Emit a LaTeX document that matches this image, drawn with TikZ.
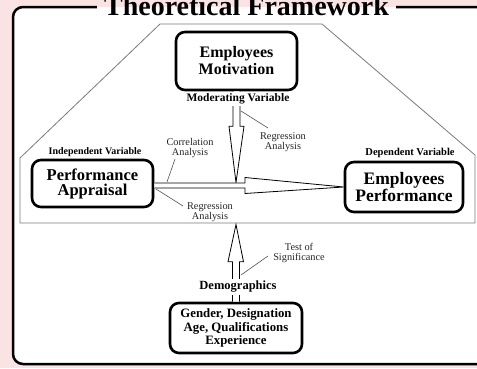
\documentclass[tikz,border=0pt]{standalone}
\usepackage{fontspec}
\setmainfont{Liberation Serif}
\usetikzlibrary{calc}
\definecolor{pinkbg}{HTML}{FAE3E3}
\definecolor{hexgray}{HTML}{7A7A7A}
\definecolor{leadgray}{HTML}{505050}
\begin{document}
\begin{tikzpicture}[x=1pt,y=-1pt,
  bigbox/.style={draw, line width=2.6pt, rounded corners=9pt, align=center, inner sep=0pt},
  boldlabel/.style={font=\fontsize{#1}{#1}\selectfont\bfseries, inner sep=0pt, align=center},
  plainlabel/.style={font=\fontsize{10.3}{10.5}\selectfont, inner sep=0pt, align=center, text=black!85},
  blockarrow/.style={draw=black, line width=0.8pt, fill=white, line join=miter},
  leader/.style={draw=leadgray, line width=0.6pt},
  hexline/.style={draw=hexgray, line width=0.8pt}]
\useasboundingbox (0,0) rectangle (477,368);
\fill[pinkbg] (0,0) rectangle (477,368);
% outer frame
\draw[line width=2.5pt, fill=white, rounded corners=10pt] (13,7) rectangle (492,364);
\fill[pinkbg] (97,5.4) rectangle (396,7);
\fill[white] (97,7) rectangle (396,8.7);
\node[anchor=base, inner sep=0pt, font=\fontsize{28}{30}\selectfont\bfseries] (title) at (246.5,15) {Theoretical Framework};
% hexagon
\draw[hexline] (160,24) -- (322,24) -- (475,155) -- (475,223) -- (20,223) -- (20,158) -- cycle;
% boxes
\node[bigbox, minimum width=121pt, minimum height=58pt, font=\fontsize{16}{17}\selectfont\bfseries] (em) at (236.5,61) {Employees\\Motivation};
\node[bigbox, minimum width=121pt, minimum height=47pt, font=\fontsize{16.5}{15}\selectfont\bfseries] (pa) at (92.5,183.5) {Performance\\Appraisal};
\node[bigbox, minimum width=118pt, minimum height=50pt, font=\fontsize{17.5}{16}\selectfont\bfseries] (ep) at (404,187) {Employees\\Performance};
\node[bigbox, minimum width=132pt, minimum height=50pt, font=\fontsize{12.8}{13.5}\selectfont\bfseries] (demo) at (236,328) {Gender, Designation\\Age, Qualifications\\Experience};
% down arrow (moderating)
\coordinate (tipdown) at (236,182.5);
\draw[blockarrow] ($(em.south)+(-3.5,0)$) -- ($(em.south)+(-3.5,35)$) -- ($(em.south)+(-7.5,35)$) -- (tipdown) -- ($(em.south)+(7.5,35)$) -- ($(em.south)+(3.5,35)$) -- ($(em.south)+(3.5,0)$);
% horizontal arrow
\draw[blockarrow] ($(pa.east)+(0,-0.5)$) -- (245,183) -- (245,177.5) -- (ep.west) -- (245,193.5) -- (245,188) -- ($(pa.east)+(0,4.5)$);
% up arrow (demographics)
\coordinate (tipup) at (236,224.5);
\draw[blockarrow] ($(demo.north)+(-3.5,0)$) -- ($(demo.north)+(-3.5,-40)$) -- ($(demo.north)+(-8,-40)$) -- (tipup) -- ($(demo.north)+(7.5,-40)$) -- ($(demo.north)+(3.5,-40)$) -- ($(demo.north)+(3.5,0)$);
% labels
\node[boldlabel=11.5, fill=white, inner xsep=1pt, inner ysep=1.5pt] (mod) at (238,99) {Moderating Variable};
\node[boldlabel=10] (indep) at (95,152) {Independent Variable};
\node[boldlabel=10.5] (dep) at (410,153) {Dependent Variable};
\node[boldlabel=12.5, fill=white, inner xsep=1pt, inner ysep=2pt] (dem) at (238,287) {Demographics};
\node[plainlabel] (corr) at (190,148) {Correlation\\Analysis};
\node[plainlabel] (reg1) at (283,142) {Regression\\Analysis};
\node[plainlabel] (reg2) at (210,212) {Regression\\Analysis};
\node[plainlabel] (sig) at (299,253) {Test of\\Significance};
% leaders
\coordinate (l1a) at (241,111); \coordinate (l1b) at (268,128);
\draw[leader] (l1a) -- (l1b);
\coordinate (l2a) at (175,159); \coordinate (l2b) at (167,182);
\draw[leader] (l2a) -- (l2b);
\coordinate (l3a) at (156,189); \coordinate (l3b) at (183,206);
\draw[leader] (l3a) -- (l3b);
\coordinate (l4a) at (241,275); \coordinate (l4b) at (268,256);
\draw[leader] (l4a) -- (l4b);
\end{tikzpicture}
\end{document}
